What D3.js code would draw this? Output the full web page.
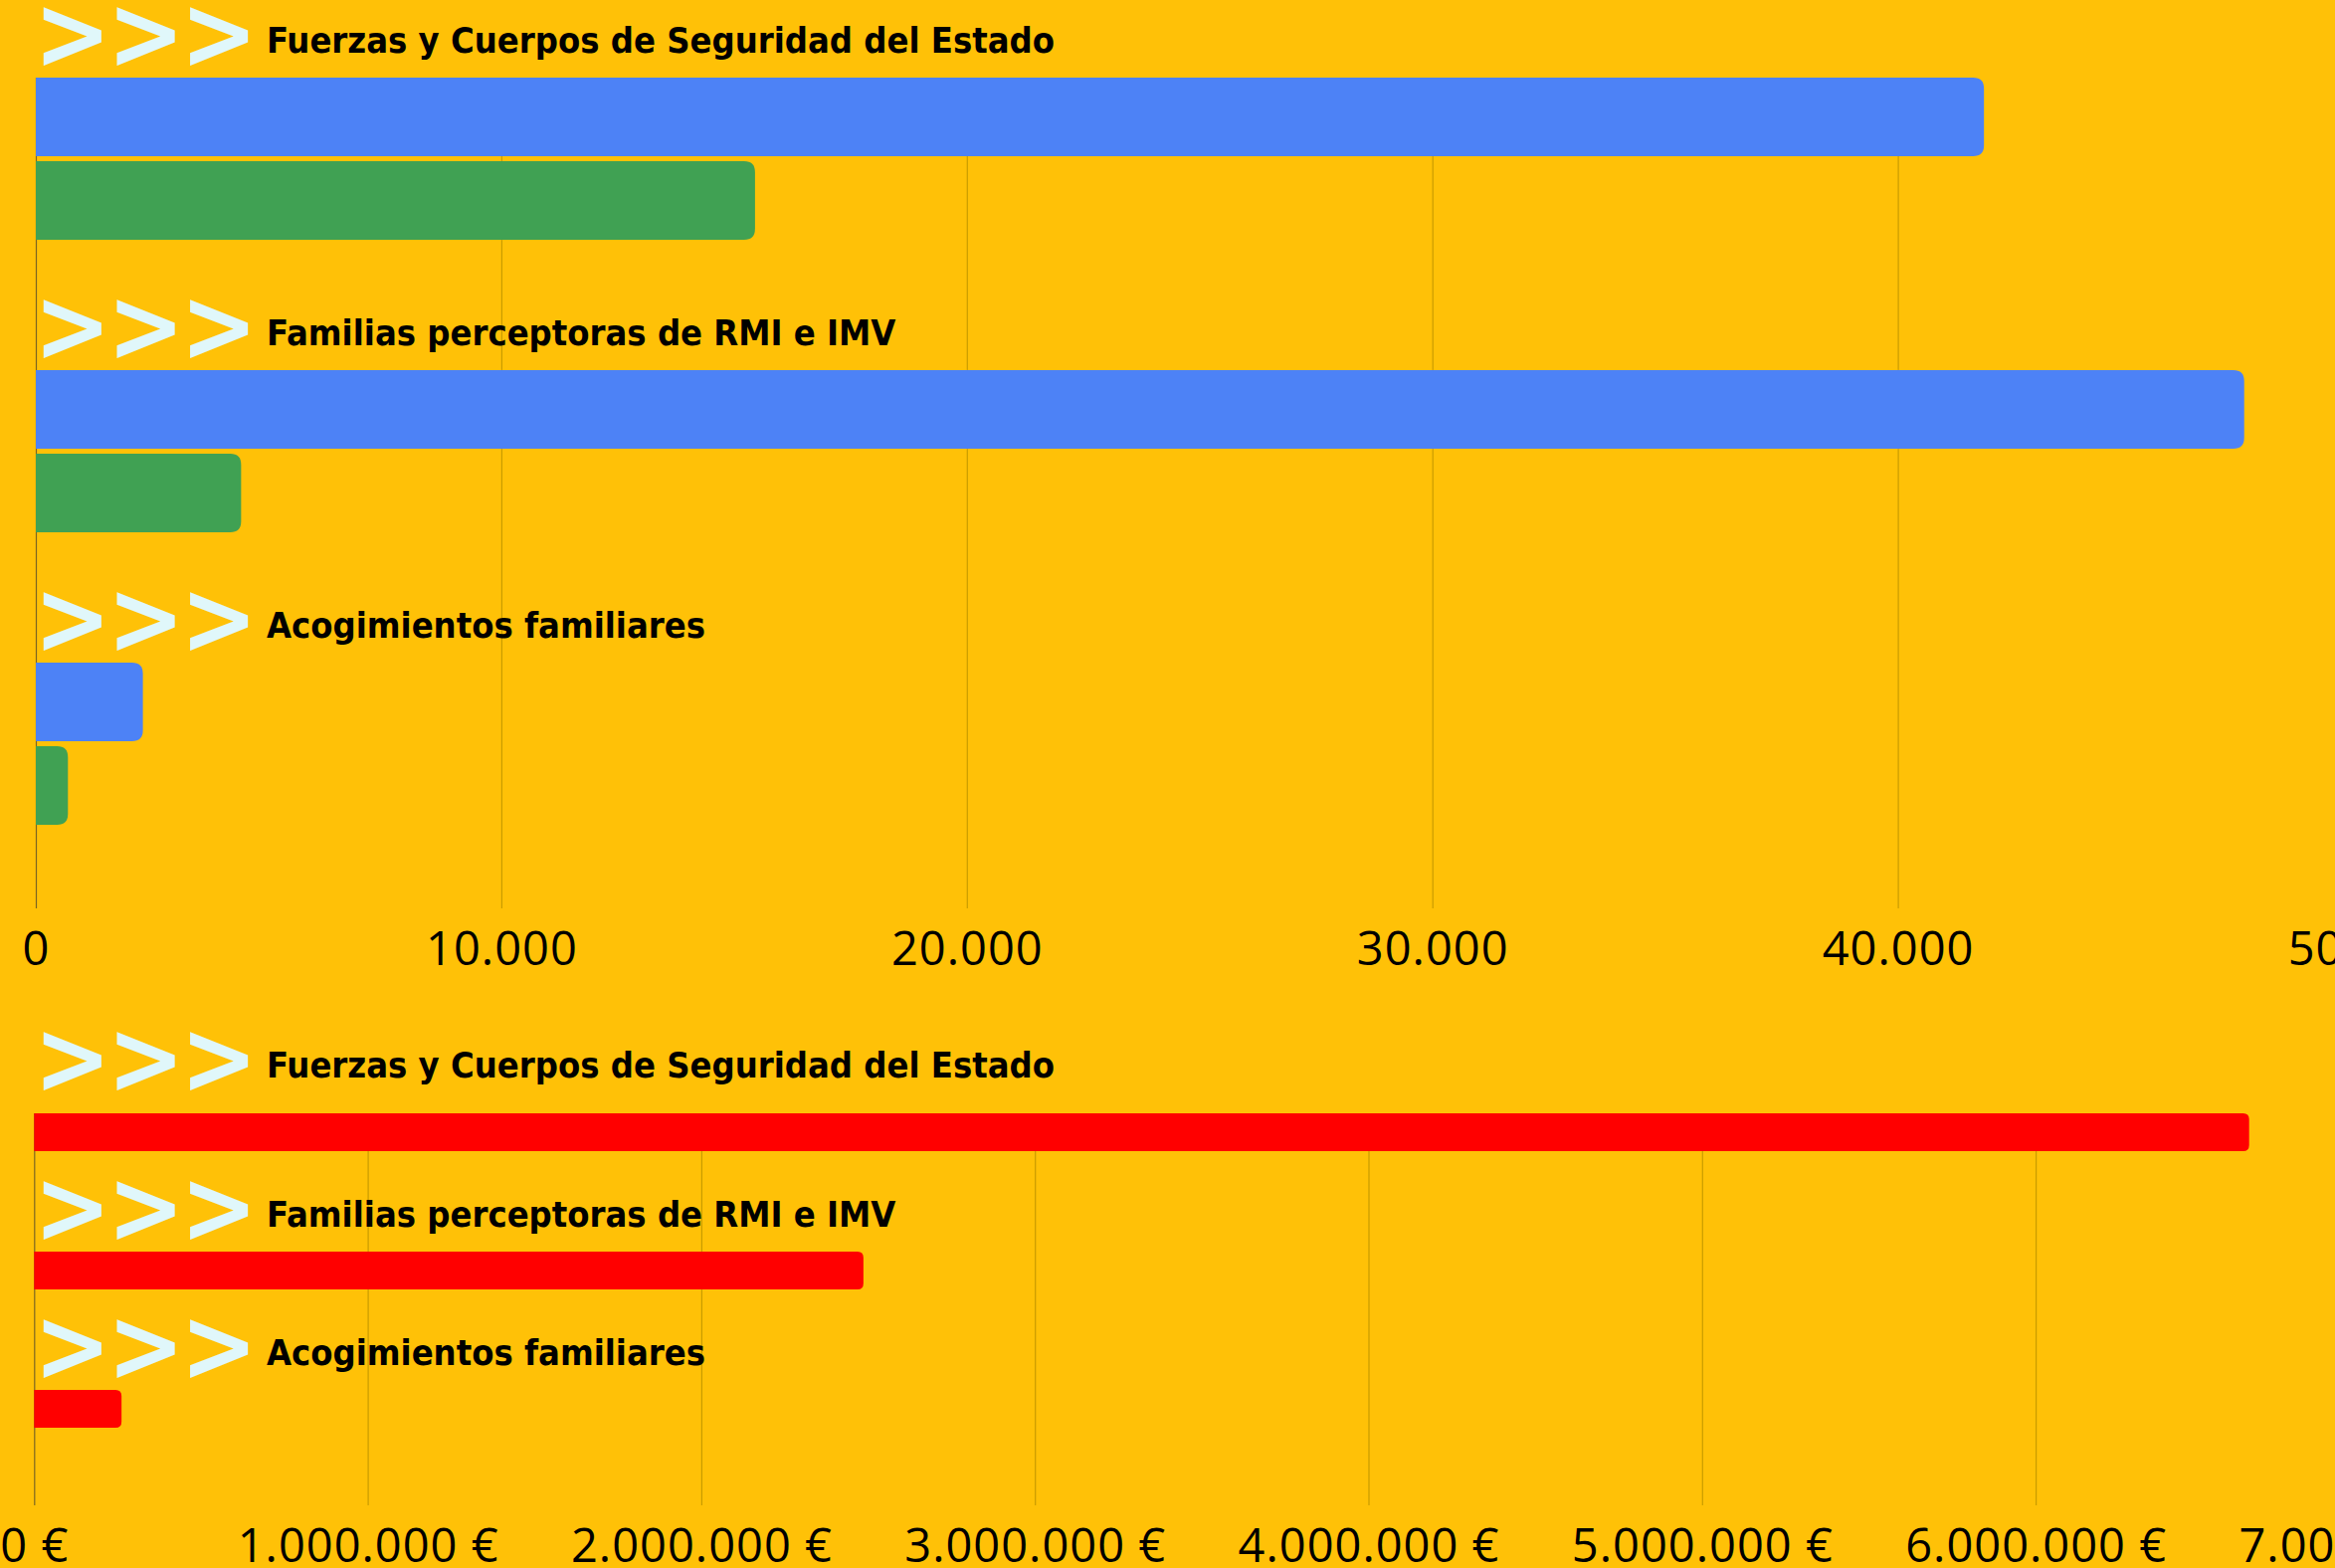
<!DOCTYPE html>
<html lang="es">
    <head>
        <meta charset="utf-8">
        <title>Barras horizontales</title>
        <script type="text/javascript" src="https://cdnjs.cloudflare.com/ajax/libs/d3/7.8.5/d3.min.js"></script>
        <style>
            body { margin: 0; background: #ffc107; }
            .tick text { font-family: "Open Sans", sans-serif; font-size: 47px; letter-spacing: 1px; fill: #000; }
            .lbl { font-family: "DejaVu Sans Condensed", "DejaVu Sans", sans-serif; font-stretch: condensed; font-weight: bold; font-size: 36px; fill: #000; }
            .chev { font-family: "DejaVu Sans Condensed", "DejaVu Sans", sans-serif; font-stretch: condensed; font-weight: bold; font-size: 103px; letter-spacing: -4px; fill: #e0f7fa; }
        </style>
    </head>
    <body>
        <script type="text/javascript">

            var categorias = ["Fuerzas y Cuerpos de Seguridad del Estado", "Familias perceptoras de RMI e IMV", "Acogimientos familiares"];
            var serieAzul = [41850, 47440, 2300];
            var serieVerde = [15450, 4410, 690];
            var importes = [6640000, 2486000, 262000];
            var ticksArriba = [0, 10000, 20000, 30000, 40000, 50000];
            var ticksAbajo = [0, 1000000, 2000000, 3000000, 4000000, 5000000, 6000000, 7000000];

            var w = 2347;
            var h = 1576;

            var es = d3.formatLocale({decimal: ",", thousands: ".", grouping: [3], currency: ["", " €"]});
            var fmt = es.format(",.0f");

            var svg = d3.select("body")
                .append("svg")
                .attr("width", w)
                .attr("height", h);

            svg.append("rect")
                .attr("width", w)
                .attr("height", h)
                .attr("fill", "#ffc107");

            // barra con esquinas redondeadas solo a la derecha
            var barPath = function(x0, x1, y, bh, r){
                r = Math.min(r, (x1 - x0), bh/2);
                return "M" + x0 + "," + y +
                    "H" + (x1 - r) +
                    "Q" + x1 + "," + y + " " + x1 + "," + (y + r) +
                    "V" + (y + bh - r) +
                    "Q" + x1 + "," + (y + bh) + " " + (x1 - r) + "," + (y + bh) +
                    "H" + x0 + "Z";
            };

            var drawAxis = function(scale, ticks, top, axisY, format){
                var axis = d3.axisBottom(scale)
                    .tickValues(ticks)
                    .tickSize(-(axisY - top))
                    .tickPadding(24)
                    .tickFormat(format);
                var g = svg.append("g")
                    .attr("class", "x axis")
                    .attr("transform", "translate(0," + axisY + ")")
                    .call(axis);
                g.select(".domain").remove();
                g.selectAll(".tick line")
                    .attr("stroke", function(d){ return d === 0 ? "#7b6622" : "#c99c00"; })
                    .attr("stroke-width", 1.2);
                return g;
            };

            var drawLabels = function(yBand, offsets){
                var lab = svg.append("g")
                    .selectAll("g")
                    .data(categorias)
                    .enter()
                    .append("g")
                    .attr("transform", function(d, i){ return "translate(0," + (yBand(d) - offsets(i)) + ")"; });

                lab.append("text")
                    .attr("class", "chev")
                    .attr("x", 34)
                    .attr("y", 16)
                    .text(">>>");

                lab.append("text")
                    .attr("class", "lbl")
                    .attr("x", 268)
                    .attr("y", 0)
                    .text(function(d){ return d; });
            };

            // ---- grafico superior ----
            var top1 = 78, axis1 = 913;
            var x1 = d3.scaleLinear()
                .domain([0, 50000])
                .range([36, 2375.5]);

            var y1 = d3.scaleBand()
                .domain(categorias)
                .range([top1, top1 + 3 * 294]);

            var serie = d3.scaleBand()
                .domain(["azul", "verde"])
                .range([0, 163])
                .paddingInner(0.06);

            drawAxis(x1, ticksArriba, top1, axis1, function(d){ return fmt(d); });

            var datos1 = [];
            categorias.forEach(function(c, i){
                datos1.push({cat: c, key: "azul", value: serieAzul[i], color: "#4d82f6"});
                datos1.push({cat: c, key: "verde", value: serieVerde[i], color: "#40a153"});
            });

            svg.append("g")
                .selectAll("path")
                .data(datos1)
                .enter()
                .append("path")
                .attr("fill", function(d){ return d.color; })
                .attr("d", function(d){
                    return barPath(x1(0), x1(d.value), y1(d.cat) + serie(d.key), serie.bandwidth(), 11);
                });

            drawLabels(y1, function(i){ return 25; });

            // ---- grafico inferior ----
            var top2 = 1119, axis2 = 1513;
            var x2 = d3.scaleLinear()
                .domain([0, 7000000])
                .range([34.3, 2381.4]);

            var y2 = d3.scaleBand()
                .domain(categorias)
                .range([top2, top2 + 3 * 139]);

            drawAxis(x2, ticksAbajo, top2, axis2, function(d){ return fmt(d) + " €"; });

            svg.append("g")
                .selectAll("path")
                .data(importes)
                .enter()
                .append("path")
                .attr("fill", "#ff0000")
                .attr("d", function(d, i){
                    return barPath(x2(0), x2(d), y2(categorias[i]), 38, 6);
                });

            drawLabels(y2, function(i){ return i === 0 ? 36 : 25; });

        </script>
    </body>
</html>
